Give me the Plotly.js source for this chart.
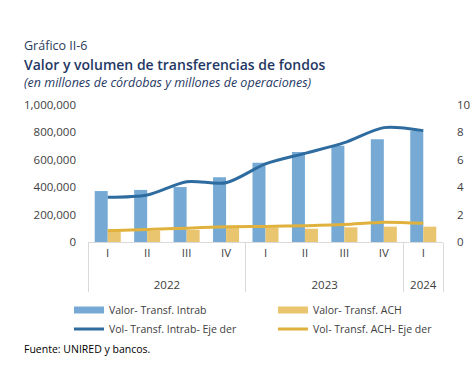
<!DOCTYPE html>
<html>
<head>
<meta charset="utf-8">
<script src="https://cdn.plot.ly/plotly-3.0.1.min.js"></script>
<style>html,body{margin:0;padding:0;background:#fff;}</style>
</head>
<body>
<div id="chart" style="width:472px;height:373px;"></div>
<script>
const years = ["2022","2022","2022","2022","2023","2023","2023","2023","2024"];
const quarters = ["I","II","III","IV","I","II","III","IV","I"];
const valorIntrab = [372000, 380000, 401000, 472000, 579000, 657000, 703000, 750000, 812000];
const valorACH = [93000, 83000, 88000, 105000, 105000, 97000, 107000, 112000, 112000];
const volIntrab = [3.26, 3.43, 4.4, 4.33, 5.7, 6.47, 7.25, 8.35, 8.13];
const volACH = [0.83, 0.92, 1.0, 1.12, 1.14, 1.19, 1.27, 1.44, 1.36];
const seriesNames = ["Valor- Transf. Intrab", "Valor- Transf. ACH", "Vol- Transf. Intrab- Eje der", "Vol- Transf. ACH- Eje der"];
const leftTicks = [0, 200000, 400000, 600000, 800000, 1000000];
const leftTickText = ["0","200,000","400,000","600,000","800,000","1,000,000"];
const rightTicks = [0,2,4,6,8,10];

const C_BLUE_BAR = "#76AAD5", C_GOLD_BAR = "#E9C56F", C_BLUE_LINE = "#2E6B9E", C_GOLD_LINE = "#E0B23D";
// year row is pushed one line lower, as in the original
const x = [years.map(y => "<br>" + y), quarters];
const FONT = "'Open Sans', sans-serif";
const traces = [
  {type:"bar", x:x, y:valorIntrab, name:seriesNames[0], marker:{color:C_BLUE_BAR}, showlegend:false},
  {type:"bar", x:x, y:valorACH, name:seriesNames[1], marker:{color:C_GOLD_BAR}, showlegend:false},
  {type:"scatter", mode:"lines", x:x, y:volIntrab, yaxis:"y2", name:seriesNames[2],
   line:{color:C_BLUE_LINE, width:3, shape:"spline", smoothing:0.8}, legend:"legend3"},
  {type:"scatter", mode:"lines", x:x, y:volACH, yaxis:"y2", name:seriesNames[3],
   line:{color:C_GOLD_LINE, width:3, shape:"spline", smoothing:0.8}, legend:"legend4"},
  {type:"scatter", mode:"lines", x:[null], y:[null], name:seriesNames[0], line:{color:C_BLUE_BAR, width:7}, legend:"legend", hoverinfo:"skip"},
  {type:"scatter", mode:"lines", x:[null], y:[null], name:seriesNames[1], line:{color:C_GOLD_BAR, width:7}, legend:"legend2", hoverinfo:"skip"}
];
const legBase = {orientation:"v", xref:"paper", yref:"paper", yanchor:"middle", xanchor:"left",
  font:{size:10.5, color:"#404040", family:FONT}, bgcolor:"rgba(0,0,0,0)", borderwidth:0, itemwidth:30};
const colL = -0.0535, colR = 0.521, row1 = (242-310)/137, row2 = (242-329)/137;
const layout = {
  width:472, height:373,
  margin:{l:88, r:29, t:105, b:131},
  paper_bgcolor:"#fff", plot_bgcolor:"#fff",
  font:{family:FONT, size:11, color:"#404040"},
  barmode:"group", bargap:0.34, bargroupgap:0,
  showlegend:true,
  xaxis:{type:"multicategory", showline:true, linecolor:"#d9d9d9", linewidth:1,
         showdividers:true, dividercolor:"#d9d9d9", dividerwidth:1,
         ticks:"outside", ticklen:5, tickcolor:"rgba(0,0,0,0)",
         tickfont:{size:11.5, color:"#404040"}, showgrid:false},
  yaxis:{range:[0,1000000], tickvals:leftTicks, ticktext:leftTickText, showgrid:false,
         zeroline:false, showline:false, ticks:"", ticklabelstandoff:11,
         tickfont:{size:11.5, color:"#404040"}},
  yaxis2:{range:[0,10], tickvals:rightTicks, overlaying:"y", side:"right", showgrid:false,
          zeroline:false, showline:false, ticks:"", ticklabelstandoff:13,
          tickfont:{size:11.5, color:"#404040"}},
  legend: Object.assign({}, legBase, {x:colL, y:row1}),
  legend2: Object.assign({}, legBase, {x:colR, y:row1}),
  legend3: Object.assign({}, legBase, {x:colL, y:row2}),
  legend4: Object.assign({}, legBase, {x:colR, y:row2}),
  annotations:[
    {text:"Gráfico II-6", xref:"paper", yref:"paper", x:-0.186, y:(242-45)/137, xanchor:"left", yanchor:"middle",
     showarrow:false, font:{size:12.5, color:"#2A3A5C", family:FONT}},
    {text:"Valor y volumen de transferencias de fondos", xref:"paper", yref:"paper", x:-0.186, y:(242-64)/137,
     xanchor:"left", yanchor:"middle", showarrow:false, font:{size:14, color:"#1F3864", family:FONT, weight:600}},
    {text:"<i>(en millones de córdobas y millones de operaciones)</i>", xref:"paper", yref:"paper", x:-0.186, y:(242-82)/137,
     xanchor:"left", yanchor:"middle", showarrow:false, font:{size:12.5, color:"#1F3864", family:FONT}},
    {text:"Fuente: UNIRED y bancos.", xref:"paper", yref:"paper", x:-0.186, y:(242-349)/137,
     xanchor:"left", yanchor:"middle", showarrow:false, font:{size:10.5, color:"#000", family:FONT}}
  ]
};
Plotly.newPlot("chart", traces, layout, {displayModeBar:false, staticPlot:true});
</script>
</body>
</html>
